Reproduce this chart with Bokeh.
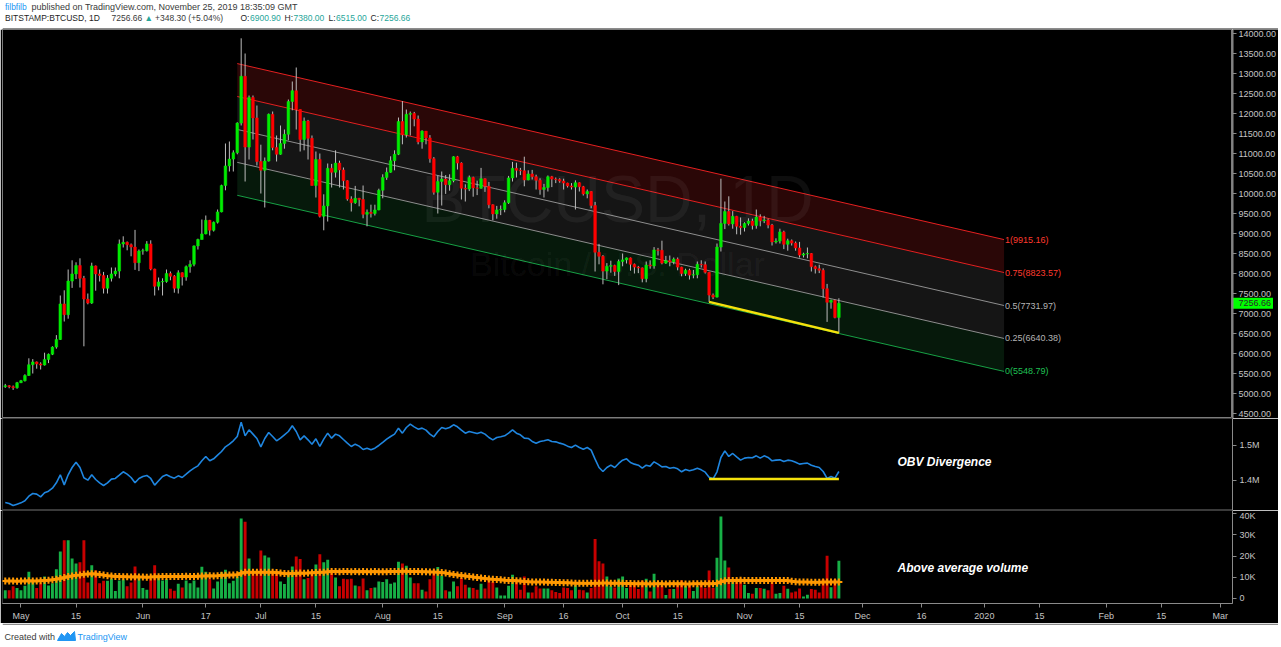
import numpy as np
import pandas as pd
from bokeh.plotting import figure
from bokeh.layouts import column, row
from bokeh.models import ColumnDataSource, Range1d, FixedTicker, Label, Span
from bokeh.embed import file_html
from bokeh.resources import INLINE
from bokeh.core.properties import value

FONT = "Liberation Sans"

# ---------------- data (BITSTAMP:BTCUSD, 1D) ----------------
start_date = "2019-04-27"
origin_date = "2019-05-01"

opens = [
    5170, 5195, 5170, 5145, 5270, 5320, 5450, 5720, 5790, 5740,
    5710, 5850, 5980, 6160, 6350, 7240, 6970, 7810, 7990, 8200,
    7880, 7360, 7260, 8190, 7990, 7950, 7630, 7880, 7990, 8060,
    8740, 8780, 8720, 8660, 8270, 8560, 8570, 8740, 8110, 7680,
    7790, 7800, 8000, 7930, 7630, 8020, 7910, 8170, 8230, 8690,
    8850, 8990, 9330, 9080, 9280, 9540, 10200, 10690, 10860, 11020,
    11760, 12930, 11160, 12400, 11890, 10800, 10580, 10810, 11980, 11150,
    10980, 11250, 11480, 12300, 12570, 12100, 11350, 11810, 11380, 10200,
    10850, 9430, 9690, 10630, 10530, 10760, 10590, 10320, 9860, 9770,
    9880, 9850, 9480, 9530, 9500, 9590, 10080, 10400, 10530, 10820,
    10980, 11800, 11470, 11980, 12000, 11860, 11290, 11560, 11390, 10870,
    10030, 10300, 10360, 10220, 10320, 10920, 10760, 10130, 10110, 10400,
    10140, 10130, 10370, 10180, 9720, 9490, 9590, 9600, 9770, 10390,
    10630, 10580, 10570, 10340, 10490, 10420, 10330, 10100, 10150, 10420,
    10360, 10350, 10310, 10260, 10190, 10160, 10270, 10170, 9990, 10050,
    9700, 8530, 8430, 8060, 8180, 8200, 8050, 8300, 8340, 8390,
    8230, 8160, 8140, 7870, 8210, 8190, 8590, 8580, 8260, 8320,
    8290, 8360, 8160, 8000, 8080, 7960, 7970, 8230, 8220, 8030,
    7460, 7410, 8660, 9250, 9550, 9240, 9430, 9180, 9150, 9250,
    9310, 9200, 9410, 9320, 9340, 9210, 8790, 8810, 9040, 8730,
    8820, 8760, 8640, 8460, 8490, 8500, 8170, 8120, 8080, 7620,
    7280, 7330, 6900.90,
]
highs = [
    5240, 5210, 5200, 5290, 5340, 5480, 5880, 5860, 5800, 5780,
    6020, 6000, 6180, 6460, 7450, 7580, 8100, 8330, 8280, 8380,
    7940, 7500, 8270, 8200, 8100, 8040, 7960, 8150, 8150, 8850,
    8930, 8800, 8750, 9090, 8600, 8620, 8810, 8830, 8120, 7900,
    7880, 8100, 8050, 7960, 8080, 8030, 8200, 8330, 8700, 8870,
    9350, 9450, 9340, 9300, 9600, 10220, 11250, 11300, 11080, 11780,
    13880, 13500, 12450, 12450, 12200, 11220, 10900, 12000, 12050, 11450,
    11700, 11600, 12350, 12800, 13150, 12100, 11900, 11840, 11450, 11050,
    11000, 9980, 10750, 10740, 11080, 10820, 10650, 10330, 9930, 10190,
    9890, 10200, 9600, 9720, 9720, 10120, 10480, 10650, 10930, 11080,
    11900, 12310, 12100, 12050, 12040, 11950, 11580, 11560, 11460, 10910,
    10450, 10550, 10460, 10480, 10930, 10940, 10780, 10230, 10450, 10420,
    10320, 10640, 10380, 10290, 9730, 9690, 9700, 9830, 10440, 10790,
    10770, 10640, 10920, 10580, 10590, 10470, 10380, 10240, 10450, 10440,
    10400, 10380, 10370, 10270, 10260, 10330, 10280, 10190, 10100, 10060,
    9790, 8740, 8460, 8260, 8320, 8220, 8350, 8500, 8400, 8400,
    8250, 8190, 8150, 8300, 8330, 8660, 8640, 8820, 8440, 8450,
    8400, 8400, 8170, 8120, 8120, 8090, 8300, 8330, 8300, 8040,
    7500, 8750, 10370, 9800, 9930, 9560, 9440, 9400, 9280, 9380,
    9370, 9600, 9480, 9440, 9370, 9240, 8880, 9120, 9070, 8870,
    8850, 8800, 8790, 8520, 8650, 8510, 8200, 8220, 8130, 7740,
    7350, 7350, 7380.00,
]
lows = [
    5140, 5130, 5090, 5120, 5260, 5300, 5440, 5500, 5620, 5600,
    5700, 5760, 5960, 6120, 6340, 6800, 6870, 7640, 7860, 7650,
    6180, 7230, 7240, 7570, 7800, 7500, 7500, 7800, 7930, 7880,
    8650, 8580, 8430, 8090, 8060, 8470, 8550, 8080, 7450, 7580,
    7450, 7770, 7830, 7520, 7500, 7700, 7820, 8020, 8180, 8600,
    8850, 8980, 8950, 9050, 9250, 9530, 10080, 10550, 10550, 10980,
    11700, 10300, 10850, 11350, 10700, 10000, 9650, 10800, 11080, 10800,
    10970, 11120, 11330, 12080, 11600, 11050, 11080, 10850, 10200, 9900,
    9400, 9080, 9300, 10150, 10400, 10150, 10100, 9820, 9550, 9740,
    9680, 9380, 9180, 9400, 9450, 9580, 9880, 10340, 10520, 10580,
    10960, 11230, 11400, 11450, 11680, 11230, 11120, 11230, 10770, 9970,
    9500, 9700, 9990, 10070, 10280, 10600, 9850, 9800, 10060, 9920,
    9960, 10120, 10040, 9630, 9330, 9370, 9460, 9530, 9740, 10300,
    10400, 10460, 10180, 10330, 10350, 10100, 9970, 9900, 10050, 10160,
    10260, 10270, 10100, 10150, 10100, 9600, 10050, 9950, 9880, 9630,
    8050, 8230, 7730, 7860, 8020, 7940, 7710, 8180, 8250, 8070,
    8000, 8010, 7780, 7780, 8120, 8120, 8450, 8230, 8240, 8180,
    8230, 8080, 7930, 7940, 7850, 7880, 7880, 8150, 8000, 7290,
    7360, 7400, 8550, 9110, 9200, 9120, 8980, 8970, 9050, 9200,
    9100, 9120, 9180, 9260, 9130, 8700, 8750, 8750, 8610, 8570,
    8700, 8570, 8400, 8400, 8380, 8050, 8000, 8010, 7400, 6790,
    7120, 6880, 6515.00,
]
closes = [
    5195, 5170, 5145, 5270, 5320, 5450, 5720, 5790, 5740, 5710,
    5850, 5980, 6160, 6350, 7240, 6970, 7810, 7990, 8200, 7880,
    7360, 7260, 8190, 7990, 7950, 7630, 7880, 7990, 8060, 8740,
    8780, 8720, 8660, 8270, 8560, 8570, 8740, 8110, 7680, 7790,
    7800, 8000, 7930, 7630, 8020, 7910, 8170, 8230, 8690, 8850,
    8990, 9330, 9080, 9280, 9540, 10200, 10690, 10860, 11020, 11760,
    12930, 11160, 12400, 11890, 10800, 10580, 10810, 11980, 11150, 10980,
    11250, 11480, 12300, 12570, 12100, 11350, 11810, 11380, 10200, 10850,
    9430, 9690, 10630, 10530, 10760, 10590, 10320, 9860, 9770, 9880,
    9850, 9480, 9530, 9500, 9590, 10080, 10400, 10530, 10820, 10980,
    11800, 11470, 11980, 12000, 11860, 11290, 11560, 11390, 10870, 10030,
    10300, 10360, 10220, 10320, 10920, 10760, 10130, 10110, 10400, 10140,
    10130, 10370, 10180, 9720, 9490, 9590, 9600, 9770, 10390, 10630,
    10580, 10570, 10340, 10490, 10420, 10330, 10100, 10150, 10420, 10360,
    10350, 10310, 10260, 10190, 10160, 10270, 10170, 9990, 10050, 9700,
    8530, 8430, 8060, 8180, 8200, 8050, 8300, 8340, 8390, 8230,
    8160, 8140, 7870, 8210, 8190, 8590, 8580, 8260, 8320, 8290,
    8360, 8160, 8000, 8080, 7960, 7970, 8230, 8220, 8030, 7460,
    7410, 8660, 9250, 9550, 9240, 9430, 9180, 9150, 9250, 9310,
    9200, 9410, 9320, 9340, 9210, 8790, 8810, 9040, 8730, 8820,
    8760, 8640, 8460, 8490, 8500, 8170, 8120, 8080, 7620, 7280,
    7330, 6900.90, 7256.66,
]
# daily volume, thousands of BTC
volume_k = [
    3.8, 3.8, 5.7, 4.9, 3.8, 6.0, 12.6, 8.8, 4.9, 7.2,
    10.4, 6.1, 7.2, 13.8, 22.2, 27.4, 27.4, 18.9, 16.5, 17.1,
    27.4, 7.5, 15.6, 13.2, 7.2, 8.3, 8.3, 9.3, 3.5, 8.5,
    9.1, 5.8, 7.5, 15.1, 10.4, 4.9, 4.1, 9.3, 15.6, 10.1,
    8.5, 9.1, 4.6, 3.6, 6.9, 5.2, 8.5, 7.2, 8.5, 5.2,
    14.9, 12.6, 9.1, 4.7, 8.0, 12.3, 13.5, 7.2, 8.3, 10.4,
    37.7, 36.2, 18.9, 11.9, 11.9, 22.6, 20.3, 19.3, 11.9, 11.9,
    8.0, 6.8, 11.6, 15.1, 19.8, 18.6, 9.1, 9.6, 12.7, 16.0,
    20.8, 17.1, 18.2, 13.5, 9.9, 5.7, 9.3, 9.1, 9.3, 6.1,
    5.7, 9.4, 3.8, 4.9, 5.2, 8.0, 7.7, 9.1, 6.9, 7.5,
    17.3, 16.5, 15.4, 9.9, 7.2, 7.2, 4.1, 3.3, 9.1, 11.9,
    14.8, 10.7, 3.8, 3.3, 8.0, 5.7, 9.7, 6.4, 5.2, 4.9,
    4.1, 6.9, 4.7, 8.8, 7.7, 5.2, 1.4, 1.4, 6.0, 11.2,
    7.7, 4.1, 10.4, 2.8, 2.8, 5.7, 4.7, 4.7, 4.7, 3.8,
    3.0, 2.5, 5.2, 4.9, 3.8, 6.4, 4.1, 3.8, 2.8, 4.9,
    28.1, 17.5, 16.5, 10.4, 5.7, 5.2, 9.4, 10.4, 4.9, 6.9,
    6.9, 4.4, 8.3, 9.3, 3.3, 11.6, 6.4, 6.0, 1.6, 4.4,
    4.4, 6.9, 8.5, 6.0, 6.4, 3.5, 5.7, 7.5, 4.9, 13.2,
    4.9, 19.2, 38.7, 17.9, 14.6, 7.9, 9.3, 9.3, 6.4, 2.5,
    2.2, 4.9, 4.9, 4.6, 3.8, 8.0, 2.2, 2.5, 6.0, 4.6,
    2.8, 3.3, 4.7, 0.9, 1.7, 4.4, 4.1, 2.8, 9.1, 20.1,
    5.3, 9.1, 17.8,
]
# volume moving average, thousands
volume_ma_k = [
    8.2, 8.2, 8.2, 8.1, 8.2, 8.2, 8.3, 8.2, 8.2, 8.3,
    8.4, 8.6, 8.8, 9.1, 9.4, 9.9, 10.3, 10.6, 10.9, 11.1,
    11.4, 11.5, 11.6, 11.5, 11.3, 11.0, 10.7, 10.6, 10.4, 10.3,
    10.2, 10.2, 10.1, 10.2, 10.1, 10.1, 10.0, 10.1, 10.2, 10.2,
    10.3, 10.4, 10.4, 10.3, 10.4, 10.4, 10.5, 10.4, 10.4, 10.5,
    10.6, 10.6, 10.7, 10.6, 10.7, 10.9, 10.9, 11.0, 11.0, 11.2,
    11.9, 12.3, 12.4, 12.3, 12.3, 12.4, 12.4, 12.3, 12.3, 12.2,
    12.0, 11.8, 11.7, 11.8, 11.9, 12.0, 11.9, 12.0, 12.1, 12.2,
    12.3, 12.4, 12.6, 12.7, 12.7, 12.6, 12.7, 12.7, 12.6, 12.7,
    12.6, 12.7, 12.6, 12.6, 12.7, 12.6, 12.6, 12.6, 12.7, 12.7,
    12.7, 12.8, 12.8, 12.7, 12.7, 12.7, 12.6, 12.6, 12.5, 12.5,
    12.4, 12.2, 12.0, 11.6, 11.3, 11.1, 10.8, 10.6, 10.4, 10.1,
    9.9, 9.6, 9.4, 9.2, 9.0, 8.9, 8.8, 8.6, 8.5, 8.4,
    8.3, 8.2, 8.0, 7.9, 7.8, 7.7, 7.7, 7.7, 7.6, 7.6,
    7.5, 7.5, 7.4, 7.4, 7.3, 7.2, 7.2, 7.2, 7.1, 7.1,
    7.2, 7.2, 7.3, 7.3, 7.2, 7.2, 7.2, 7.1, 7.0, 7.0,
    6.9, 6.9, 6.9, 6.9, 6.8, 6.9, 6.9, 6.9, 6.8, 6.9,
    6.9, 6.9, 6.9, 6.8, 6.8, 6.9, 6.9, 6.9, 6.9, 6.9,
    6.9, 7.2, 7.9, 8.3, 8.5, 8.5, 8.5, 8.6, 8.5, 8.5,
    8.5, 8.5, 8.5, 8.5, 8.5, 8.4, 8.5, 8.5, 8.5, 8.4,
    8.1, 7.9, 7.8, 7.7, 7.7, 7.6, 7.6, 7.6, 7.7, 7.7,
    7.7, 7.8, 7.7,
]
# on-balance volume, thousands
obv_k = [
    1337.7, 1334.8, 1329.2, 1333.0, 1336.7, 1342.4, 1355.6, 1363.2, 1361.3, 1353.7,
    1365.1, 1369.8, 1378.3, 1393.4, 1416.1, 1387.7, 1416.1, 1436.8, 1451.9, 1436.8,
    1407.6, 1400.9, 1416.1, 1402.8, 1393.4, 1385.8, 1393.4, 1403.8, 1405.7, 1415.1,
    1424.6, 1417.9, 1408.5, 1393.4, 1405.7, 1411.3, 1414.2, 1405.7, 1386.8, 1399.1,
    1411.3, 1416.1, 1410.4, 1406.6, 1413.2, 1408.5, 1417.9, 1427.4, 1434.9, 1441.5,
    1455.7, 1468.0, 1455.7, 1461.4, 1471.8, 1482.2, 1495.4, 1502.9, 1512.4, 1524.6,
    1565.3, 1526.5, 1543.5, 1531.3, 1519.0, 1495.4, 1519.0, 1536.0, 1524.6, 1512.4,
    1519.9, 1529.4, 1538.8, 1554.9, 1538.8, 1515.2, 1526.5, 1515.2, 1502.9, 1518.0,
    1496.3, 1517.1, 1534.1, 1519.9, 1531.3, 1526.5, 1516.1, 1505.8, 1496.3, 1502.9,
    1497.3, 1487.8, 1491.6, 1486.9, 1491.6, 1499.2, 1507.7, 1517.1, 1524.6, 1531.3,
    1548.3, 1534.1, 1550.1, 1559.6, 1552.0, 1545.4, 1548.3, 1542.6, 1531.3, 1523.7,
    1538.8, 1550.1, 1546.4, 1550.1, 1557.7, 1552.0, 1542.6, 1534.1, 1538.8, 1536.0,
    1533.1, 1536.9, 1531.3, 1521.8, 1515.2, 1521.8, 1523.7, 1526.5, 1534.1, 1543.5,
    1534.1, 1529.4, 1519.9, 1519.0, 1510.5, 1505.8, 1510.5, 1512.4, 1515.2, 1510.5,
    1509.5, 1505.8, 1502.9, 1497.3, 1493.5, 1500.1, 1493.5, 1488.8, 1493.5, 1485.9,
    1460.4, 1436.8, 1425.5, 1436.8, 1443.4, 1436.8, 1448.2, 1457.6, 1461.4, 1451.0,
    1446.3, 1443.4, 1434.9, 1443.4, 1440.6, 1452.9, 1446.3, 1438.7, 1439.7, 1434.9,
    1436.8, 1433.1, 1424.6, 1431.2, 1427.4, 1430.2, 1434.9, 1430.2, 1423.6, 1409.4,
    1404.7, 1424.6, 1465.2, 1484.0, 1468.0, 1476.5, 1467.0, 1457.6, 1463.3, 1465.2,
    1464.2, 1469.9, 1463.3, 1469.9, 1465.2, 1455.7, 1457.6, 1458.5, 1453.8, 1457.6,
    1455.7, 1451.9, 1446.3, 1448.2, 1449.1, 1443.4, 1439.7, 1436.8, 1425.5, 1405.7,
    1411.3, 1406.6, 1425.5,
]

# regression channel drawn on the chart
channel_dates = ["2019-06-25", "2020-01-06"]
channel_bottom = [9955, 5552]
channel_top = [13248, 8848]
channel_levels = [0.0, 0.25, 0.5, 0.75, 1.0]
channel_labels = ["0(5548.79)", "0.25(6640.38)", "0.5(7731.97)", "0.75(8823.57)", "1(9915.16)"]

# yellow divergence lines
trend_dates = ["2019-10-23", "2019-11-25"]
trend_prices = [7290, 6515]
obv_support_k = [1404.5, 1404.5]

# axis ticks
tick_dates = ["2019-05-01", "2019-05-15", "2019-06-01", "2019-06-17", "2019-07-01", "2019-07-15",
              "2019-08-01", "2019-08-15", "2019-09-01", "2019-09-16", "2019-10-01", "2019-10-15",
              "2019-11-01", "2019-11-15", "2019-12-01", "2019-12-16", "2020-01-01", "2020-01-15",
              "2020-02-01", "2020-02-15", "2020-03-01"]
tick_labels = ["May", "15", "Jun", "17", "Jul", "15", "Aug", "15", "Sep", "16", "Oct", "15",
               "Nov", "15", "Dec", "16", "2020", "15", "Feb", "15", "Mar"]
price_ticks = [4500, 5000, 5500, 6000, 6500, 7000, 7500, 8000, 8500, 9000, 9500, 10000,
               10500, 11000, 11500, 12000, 12500, 13000, 13500, 14000]
price_tick_labels = ["4500.00", "5000.00", "5500.00", "6000.00", "6500.00", "7000.00",
                     "7500.00", "8000.00", "8500.00", "9000.00", "9500.00", "10000.00",
                     "10500.00", "11000.00", "11500.00", "12000.00", "12500.00", "13000.00",
                     "13500.00", "14000.00"]
obv_ticks = [1400, 1500]
obv_tick_labels = ["1.4M", "1.5M"]
vol_ticks = [0, 10, 20, 30, 40]
vol_tick_labels = ["0", "10K", "20K", "30K", "40K"]

last_price = 7256.66
last_price_label = "7256.66"

# ---------------- styling ----------------
BG = "#000000"
OUT = "#7c7c7c"
AXC = "#8a8a8a"
LBL = "#c4c4c4"
UP, DN = "#00ec00", "#ff0000"
VUP, VDN = "#17b046", "#c80000"
WICK = "#bcbcbc"
YEL = "#f5e20c"
ORANGE = "#ff9800"
LB = 2
FW = 1230
RB = 46
TOTAL_W = LB + FW + RB

origin = pd.Timestamp(origin_date)


def day(s):
    return (pd.Timestamp(s) - origin).days


dates = pd.date_range(start_date, periods=len(closes), freq="D")
xd = np.array([(d - origin).days for d in dates], dtype=float)
o = np.array(opens, dtype=float)
c = np.array(closes, dtype=float)
up = c >= o
src = ColumnDataSource(dict(
    x=xd, h=highs, l=lows,
    top=np.maximum(o, c), bot=np.minimum(o, c),
    body_color=np.where(up, UP, DN),
    vol=volume_k, vol_color=np.where(up, VUP, VDN),
    vma=volume_ma_k, obv=obv_k,
))

xr = Range1d(-4.7, 308.1)


def style_axis(ax):
    ax.axis_line_color = AXC
    ax.major_tick_line_color = AXC
    ax.major_tick_out = 4
    ax.major_tick_in = 0
    ax.minor_tick_line_color = None
    ax.major_label_text_color = LBL
    ax.major_label_text_font = FONT
    ax.major_label_text_font_size = "9px"
    ax.major_label_standoff = 3


def chart_fig(frame_h, y_range, with_xaxis=False, with_yaxis=True):
    p = figure(frame_width=FW, frame_height=frame_h, x_range=xr, y_range=y_range,
               output_backend="svg", toolbar_location=None,
               x_axis_location="below" if with_xaxis else None,
               y_axis_location="right" if with_yaxis else None,
               min_border_left=LB, min_border_right=RB if with_yaxis else 0,
               min_border_top=0, min_border_bottom=0,
               background_fill_color=BG, border_fill_color=BG,
               outline_line_color=OUT, outline_line_width=1)
    p.grid.visible = False
    if with_yaxis:
        style_axis(p.yaxis[0])
    return p


def strip_fig(h):
    p = figure(frame_width=TOTAL_W, frame_height=h, x_range=Range1d(0, TOTAL_W),
               y_range=Range1d(h, 0), output_backend="svg", toolbar_location=None,
               x_axis_location=None, y_axis_location=None, min_border=0,
               background_fill_color="white", border_fill_color="white", outline_line_color=None)
    p.grid.visible = False
    return p


# ---------------- header ----------------
HH = 29
ph = strip_fig(HH)
header_parts_1 = [(2.5, "filbfilb", "#2196f3", "8.5px"),
                  (29, "published on TradingView.com, November 25, 2019 18:35:09 GMT", "#3a3a3a", "9px")]
for hx, t, col, fs in header_parts_1:
    ph.add_layout(Label(x=hx, y=6.5, text=t, text_color=col, text_font=FONT,
                        text_font_size=fs, text_baseline="middle"))
header_parts_2 = [(2.5, "BITSTAMP:BTCUSD, 1D", "#1e1e1e"), (109, "7256.66", "#3a3a3a"),
                  (142, "\u25b2", "#26a69a"), (152.5, "+348.30 (+5.04%)", "#3a3a3a"),
                  (238, "O:", "#1e1e1e"), (247.5, "6900.90", "#26a69a"),
                  (282, "H:", "#1e1e1e"), (291, "7380.00", "#26a69a"),
                  (326, "L:", "#1e1e1e"), (333.5, "6515.00", "#26a69a"),
                  (368, "C:", "#1e1e1e"), (377, "7256.66", "#26a69a")]
for hx, t, col in header_parts_2:
    ph.add_layout(Label(x=hx, y=17.8, text=t, text_color=col, text_font=FONT,
                        text_font_size="8.5px", text_baseline="middle"))
ph.segment(x0=[0], y0=[28.2], x1=[TOTAL_W], y1=[28.2], line_color="#8c8c8c", line_width=1.6)

# ---------------- main price pane ----------------
MAIN_H = 389
pm = chart_fig(MAIN_H, Range1d(4375, 14100), with_yaxis=False)
cx = [day(d) for d in channel_dates]


def lvl(f):
    return [b + f * (t - b) for b, t in zip(channel_bottom, channel_top)]


pm.varea(x=cx, y1=lvl(0.75), y2=lvl(1.0), fill_color="#2a0707")
pm.varea(x=cx, y1=lvl(0.25), y2=lvl(0.75), fill_color="#151515")
pm.varea(x=cx, y1=lvl(0.0), y2=lvl(0.25), fill_color="#06190b")
line_cols = ["#17a045", "#8e8e8e", "#8e8e8e", "#e52020", "#e52020"]
text_cols = ["#1fc254", "#b4b4b4", "#b4b4b4", "#ff3a2e", "#ff3a2e"]
for f, lab, lc, tc in zip(channel_levels, channel_labels, line_cols, text_cols):
    yy = lvl(f)
    pm.line(cx, yy, line_color=lc, line_width=1)
    pm.add_layout(Label(x=cx[1], y=yy[1], text=lab, x_offset=1, text_baseline="middle",
                        text_color=tc, text_font=FONT, text_font_size="9px"))

wx = (xr.start + xr.end) / 2
pm.text(x=[wx], y=[9875], text=["BTCUSD, 1D"], text_align="center", text_baseline="middle",
        text_font=value(FONT), text_font_size="66px", text_color="white", text_alpha=0.055)
pm.text(x=[wx], y=[8250], text=["Bitcoin / U.S. Dollar"], text_align="center",
        text_baseline="middle", text_font=value(FONT), text_font_size="34px",
        text_color="white", text_alpha=0.055)

pm.segment(x0="x", y0="l", x1="x", y1="h", source=src, line_color=WICK, line_width=1)
pm.vbar(x="x", width=0.68, top="top", bottom="bot", source=src,
        fill_color="body_color", line_color="body_color", line_width=0.5)
pm.line([day(d) for d in trend_dates], trend_prices, line_color=YEL, line_width=2.5)

# price scale strip on the right of the price pane (shares the price scale)
pax = figure(frame_width=RB, frame_height=MAIN_H, x_range=Range1d(0, RB), y_range=pm.y_range,
             output_backend="svg", toolbar_location=None, x_axis_location=None,
             y_axis_location=None, min_border=0, background_fill_color=BG,
             border_fill_color=BG, outline_line_color=None)
pax.grid.visible = False
pax.add_layout(Span(location=0.5, dimension="height", line_color=AXC, line_width=1))
pax.segment(x0=0, y0=price_ticks, x1=4, y1=price_ticks, line_color=AXC, line_width=1)
pax.text(x=6, y=price_ticks, text=price_tick_labels, text_baseline="middle",
         text_font=value(FONT), text_font_size="9px", text_color=LBL)
pax.rect(x=[20.5], y=[last_price], width=[40], height=[11], height_units="screen",
         fill_color="#00ff00", line_color=None)
pax.text(x=[6], y=[last_price], text=[last_price_label], text_baseline="middle",
         text_font=value(FONT), text_font_size="9px", text_color="#2a2a2a")

# ---------------- OBV pane ----------------
po = chart_fig(92, Range1d(1315, 1575.6))
po.outline_line_color = "#3a3a3a"
po.line("x", "obv", source=src, line_color="#1f86e0", line_width=1.6)
po.line([day(d) for d in trend_dates], obv_support_k, line_color=YEL, line_width=2.5)
po.yaxis[0].ticker = FixedTicker(ticks=obv_ticks)
po.yaxis[0].major_label_overrides = dict(zip(obv_ticks, obv_tick_labels))
po.add_layout(Label(x=222.9, y=1451.8, text="OBV Divergence", text_baseline="middle",
                    text_font=FONT, text_font_size="12px", text_font_style="bold italic",
                    text_color="white"))

# ---------------- volume pane ----------------
pv = chart_fig(93, Range1d(-2.4, 41.5), with_xaxis=True)
pv.outline_line_color = "#3a3a3a"
pv.vbar(x="x", width=0.74, top="vol", bottom=0, source=src, fill_color="vol_color",
        line_color=None)
pv.line("x", "vma", source=src, line_color=ORANGE, line_width=3)
pv.scatter("x", "vma", source=src, marker="cross", size=7, line_color=ORANGE, line_width=2)
pv.yaxis[0].ticker = FixedTicker(ticks=vol_ticks)
pv.yaxis[0].major_label_overrides = dict(zip(vol_ticks, vol_tick_labels))
pv.add_layout(Label(x=222.9, y=14.2, text="Above average volume", text_baseline="middle",
                    text_font=FONT, text_font_size="12px", text_font_style="bold italic",
                    text_color="white"))
tick_days = [day(d) for d in tick_dates]
xa = pv.xaxis[0]
xa.ticker = FixedTicker(ticks=tick_days)
xa.major_label_overrides = dict(zip(tick_days, tick_labels))
style_axis(xa)
pv.min_border_bottom = 19

# ---------------- footer ----------------
FH = 22
pf = strip_fig(FH)
pf.segment(x0=[0], y0=[0.8], x1=[TOTAL_W], y1=[0.8], line_color="#8c8c8c", line_width=1.6)
pf.patch([55, 59, 62, 65, 68, 72, 73, 55], [17, 10, 13, 9, 12, 8, 17, 17], fill_color="#2196f3",
         line_color="#2196f3")
pf.add_layout(Label(x=2, y=13.5, text="Created with", text_color="#3a3a3a", text_font=FONT,
                    text_font_size="9px", text_baseline="middle"))
pf.add_layout(Label(x=75, y=13.5, text="TradingView", text_color="#2196f3", text_font=FONT,
                    text_font_size="9px", text_baseline="middle"))

layout = column(ph, row(pm, pax, spacing=0), po, pv, pf, spacing=0)
open("out.html", "w").write(file_html(layout, INLINE, title="BTCUSD"))
